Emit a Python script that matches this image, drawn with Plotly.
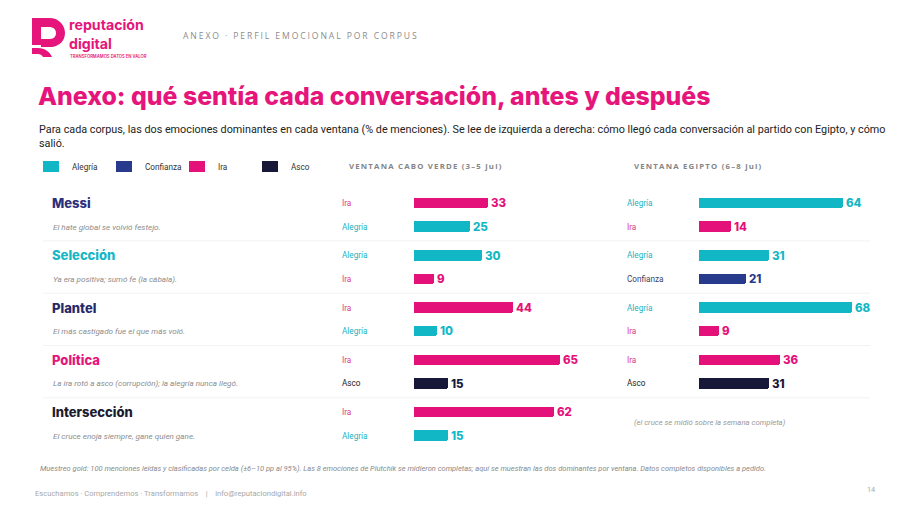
import plotly.graph_objects as go

W, H = 900, 505

# ---------------- data ----------------
corpora = ["Messi", "Selección", "Plantel", "Política", "Intersección"]
corpus_colors = ["#2c2f7c", "#17b6c6", "#262868", "#e5157b", "#1b1b30"]
descriptions = [
    "El hate global se volvió festejo.",
    "Ya era positiva; sumó fe (la cábala).",
    "El más castigado fue el que más voló.",
    "La ira rotó a asco (corrupción); la alegría nunca llegó.",
    "El cruce enoja siempre, gane quien gane.",
]
cv_emotions = [["Ira", "Alegría"], ["Alegría", "Ira"], ["Ira", "Alegría"], ["Ira", "Asco"], ["Ira", "Alegría"]]
cv_values = [[33, 25], [30, 9], [44, 10], [65, 15], [62, 15]]
eg_emotions = [["Alegría", "Ira"], ["Alegría", "Confianza"], ["Alegría", "Ira"], ["Ira", "Asco"], None]
eg_values = [[64, 14], [31, 21], [68, 9], [36, 31], None]
eg_missing_note = "(el cruce se midió sobre la semana completa)"

emotions = ["Alegría", "Confianza", "Ira", "Asco"]
emo_colors = {"Alegría": "#12b7c5", "Confianza": "#283a8c", "Ira": "#e4117a", "Asco": "#17173a"}
emo_label_colors = {"Alegría": "#1ab3c2", "Confianza": "#3b3f6b", "Ira": "#d8408c", "Asco": "#222222"}

col_titles = ["VENTANA CABO VERDE (3–5 jul)", "VENTANA EGIPTO (6–8 jul)"]

title = "Anexo: qué sentía cada conversación, antes y después"
subtitle = ("Para cada corpus, las dos emociones dominantes en cada ventana (% de menciones). Se lee de izquierda a derecha: "
            "cómo llegó cada conversación al partido con Egipto, y cómo<br>salió.")
header = "ANEXO · PERFIL EMOCIONAL POR CORPUS"
footnote = ("Muestreo gold: 100 menciones leídas y clasificadas por celda (±6–10 pp al 95%). Las 8 emociones de Plutchik "
            "se midieron completas; aquí se muestran las dos dominantes por ventana. Datos completos disponibles a pedido.")
footer = "Escuchamos · Comprendemos · Transformamos &nbsp; &nbsp;| &nbsp; &nbsp;info@reputaciondigital.info"
page_no = "14"

# ---------------- layout helpers ----------------
ROW0, GROUP_STEP, ROW_STEP = 203, 52.3, 23.5
BAR_H = 10.5
PX_PER_UNIT = 2.25
LEFT_BAR_X, RIGHT_BAR_X = 414, 699
AX_W = 180


def row_y(g, r):
    return ROW0 + g * GROUP_STEP + r * ROW_STEP


fig = go.Figure()


def add_bars(emos, vals, xaxis):
    ys, xs, cols = [], [], []
    for g, (e, v) in enumerate(zip(emos, vals)):
        if e is None:
            continue
        for r in range(2):
            ys.append(row_y(g, r))
            xs.append(v[r])
            cols.append(emo_colors[e[r]])
    fig.add_trace(go.Bar(
        x=xs, y=ys, orientation="h", width=BAR_H, xaxis=xaxis, yaxis="y",
        marker=dict(color=cols, cornerradius=2, line=dict(width=0)),
        text=[str(v) for v in xs], textposition="outside", constraintext="none",
        textfont=dict(family="Inter, sans-serif", size=11.5, color=cols, weight=800),
        cliponaxis=False, showlegend=False, hoverinfo="skip",
    ))


add_bars(cv_emotions, cv_values, "x")
add_bars(eg_emotions, eg_values, "x2")

ann = []
shapes = []


def A(x, y, text, size, color, family="Roboto, sans-serif", weight=400, italic=False, xanchor="left", **kw):
    ann.append(dict(x=x / W, y=y, xref="paper", yref="y", text=text, showarrow=False,
                    xanchor=xanchor, yanchor="middle", align="left",
                    font=dict(size=size, color=color, family=family, weight=weight,
                              style="italic" if italic else "normal"), **kw))


# logo
logo_c = "#e5157b"
logo_paths = [
    "M 32 18 L 49 18 C 60 18 65 26 65 33 C 65 41 59 46 52 47 L 41 47 L 41 39 L 50 39 "
    "C 54 39 56 36 56 33 C 56 29 53 27 49 27 L 41 27 L 41 45 L 32 45 Z",
    "M 32 48 L 38 48 C 45 48 50 52 52 57 L 43 57 C 42 55 40 54 38 54 L 32 54 Z",
]
for pth in logo_paths:
    out, is_x = [], True
    for p in pth.split():
        if p.isalpha():
            out.append(p)
            is_x = True
        else:
            v = float(p)
            out.append(f"{v / W:.5f}" if is_x else f"{v:.2f}")
            is_x = not is_x
    shapes.append(dict(type="path", xref="paper", yref="y", path=" ".join(out),
                       fillcolor=logo_c, line=dict(width=0)))

A(67, 24.5, "reputación", 14.2, logo_c, family="Inter, sans-serif", weight=700)
A(67, 43, "digital", 14.2, logo_c, family="Inter, sans-serif", weight=700)
A(68, 56, "TRANSFORMAMOS DATOS EN VALOR", 4.2, logo_c, family="Inter, sans-serif", weight=600)

A(181, 36, f'<span style="letter-spacing:1.9px">{header}</span>', 8.6, "#8c8c8c", family="Open Sans, sans-serif")

# title & subtitle
A(36, 96, title, 24.8, "#e5157b", family="Inter, sans-serif", weight=800)
ann.append(dict(x=37 / W, y=121, xref="paper", yref="y", text=subtitle, showarrow=False,
                xanchor="left", yanchor="top", align="left",
                font=dict(size=10.8, color="#222222", family="Roboto, sans-serif")))

# legend (custom row)
legend_x = [43, 116, 189, 262]
for e, lx in zip(emotions, legend_x):
    shapes.append(dict(type="rect", xref="paper", yref="y", x0=lx / W, x1=(lx + 16) / W, y0=161, y1=172,
                       fillcolor=emo_colors[e], line=dict(width=0)))
    A(lx + 27, 166.5, e, 8.2, "#333333")

# column titles
A(347, 166, f'<span style="letter-spacing:1.2px">{col_titles[0]}</span>', 7.8, "#858585",
  family="Open Sans, sans-serif", weight=700)
A(632, 166, f'<span style="letter-spacing:1.2px">{col_titles[1]}</span>', 7.8, "#858585",
  family="Open Sans, sans-serif", weight=700)

# rows
for g, name in enumerate(corpora):
    A(50, row_y(g, 0), name, 13, corpus_colors[g], family="Inter, sans-serif", weight=800)
    A(51, row_y(g, 1), descriptions[g], 8.1, "#8d8d8d", italic=True)
    for r in range(2):
        e = cv_emotions[g][r]
        A(340, row_y(g, r), e, 8.2, emo_label_colors[e])
        if eg_emotions[g] is not None:
            e2 = eg_emotions[g][r]
            A(625, row_y(g, r), e2, 8.2, emo_label_colors[e2])
    if eg_emotions[g] is None:
        A(632, row_y(g, 0) + 10.5, eg_missing_note, 7.7, "#9a9a9a", italic=True)
    if g < len(corpora) - 1:
        ysep = (row_y(g, 1) + row_y(g + 1, 0)) / 2
        shapes.append(dict(type="line", xref="paper", yref="y", x0=43 / W, x1=870 / W, y0=ysep, y1=ysep,
                           line=dict(color="#f2f2f2", width=1)))

# footnote & footer
A(38, 468, footnote, 7.5, "#8a8a8a", italic=True)
A(33, 493, footer, 7.6, "#a8a8a8")
A(871, 489, page_no, 7.3, "#a8a8a8", xanchor="center")

fig.update_layout(
    width=W, height=H, margin=dict(l=0, r=0, t=0, b=0),
    paper_bgcolor="#ffffff", plot_bgcolor="rgba(0,0,0,0)",
    xaxis=dict(domain=[LEFT_BAR_X / W, (LEFT_BAR_X + AX_W) / W], range=[0, AX_W / PX_PER_UNIT],
               visible=False, fixedrange=True),
    xaxis2=dict(domain=[RIGHT_BAR_X / W, (RIGHT_BAR_X + AX_W) / W], range=[0, AX_W / PX_PER_UNIT],
                visible=False, fixedrange=True, anchor="y"),
    yaxis=dict(domain=[0, 1], range=[H, 0], visible=False, fixedrange=True),
    bargap=0, annotations=ann, shapes=shapes, showlegend=False,
)

fig.write_html("out.html")
